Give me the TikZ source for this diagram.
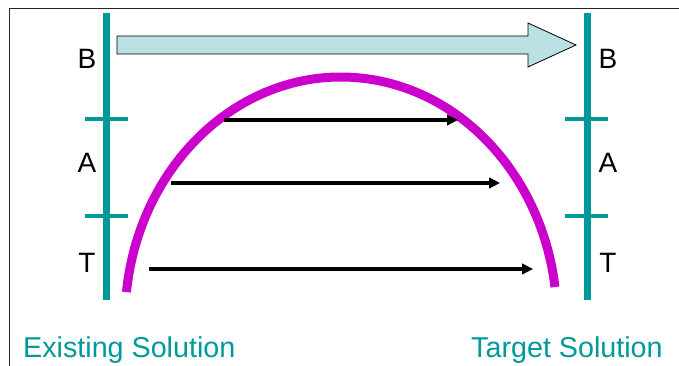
\documentclass[tikz,border=0pt]{standalone}
\usepackage{fontspec}
\setmainfont{Liberation Sans}
\usetikzlibrary{arrows.meta,calc}
\definecolor{tealbar}{RGB}{0,153,153}
\definecolor{magarc}{RGB}{204,0,204}
\definecolor{paleblue}{RGB}{187,224,227}
\begin{document}
\begin{tikzpicture}[x=1pt,y=1pt,
  bar/.style={draw=tealbar,line width=7pt},
  tickmark/.style={draw=tealbar,line width=4pt},
  lbl/.style={inner sep=0pt,font=\fontsize{28}{32}\selectfont},
  captext/.style={inner sep=0pt,anchor=base west,text=tealbar,font=\fontsize{28.7}{32}\selectfont},
  flow/.style={line width=3.5pt,-{Triangle[length=11pt,width=10.5pt]}},
  bigarrow/.style={draw=black,line width=0.8pt,fill=paleblue,line join=miter},
  frameline/.style={draw=black!85,line width=1pt}]
\useasboundingbox (0,0) rectangle (679,-366);
% frame
\coordinate (fTL) at (9,-8.5);
\coordinate (fTR) at (679,-8.5);
\coordinate (fBL) at (9,-366);
\draw[frameline] (fTR) -- (fTL) -- (fBL);
% bars
\coordinate (lTop) at (106.5,-13);
\coordinate (lBot) at (106.5,-300);
\coordinate (rTop) at (587,-13);
\coordinate (rBot) at (587,-300);
\draw[bar] (lTop) -- (lBot);
\draw[bar] (rTop) -- (rBot);
% ticks
\coordinate (lt1a) at (85,-119.5); \coordinate (lt1b) at (128,-119.5);
\coordinate (lt2a) at (85,-215.5); \coordinate (lt2b) at (128,-215.5);
\coordinate (rt1a) at (565,-119.5); \coordinate (rt1b) at (608,-119.5);
\coordinate (rt2a) at (565,-215.5); \coordinate (rt2b) at (608,-215.5);
\draw[tickmark] (lt1a) -- (lt1b);
\draw[tickmark] (lt2a) -- (lt2b);
\draw[tickmark] (rt1a) -- (rt1b);
\draw[tickmark] (rt2a) -- (rt2b);
% layer labels
\node[lbl] (lB) at (87,-59) {B};
\node[lbl] (lA) at (87,-163) {A};
\node[lbl] (lT) at (87,-263) {T};
\node[lbl] (rB) at (608,-59) {B};
\node[lbl] (rA) at (608,-163) {A};
\node[lbl] (rT) at (608,-263) {T};
% big arrow
\draw[bigarrow] (117,-36) -- (528,-36) -- (528,-23) -- (576,-45) -- (528,-67) -- (528,-54) -- (117,-54) -- cycle;
% arc
\coordinate (ac) at (341,-320);
\draw[magarc,line width=9pt] ($(ac)+(173.4:216 and 243)$) arc[start angle=173.4,end angle=7.8,x radius=216,y radius=243];
% flow arrows
\coordinate (a1s) at (224,-120); \coordinate (a1e) at (458,-120);
\coordinate (a2s) at (171,-183); \coordinate (a2e) at (500,-183);
\coordinate (a3s) at (149,-269); \coordinate (a3e) at (533,-269);
\draw[flow] (a1s) -- (a1e);
\draw[flow] (a2s) -- (a2e);
\draw[flow] (a3s) -- (a3e);
% captions
\node[captext] (ex) at (23,-357) {Existing Solution};
\node[captext] (tg) at (471,-357) {Target Solution};
\end{tikzpicture}
\end{document}
